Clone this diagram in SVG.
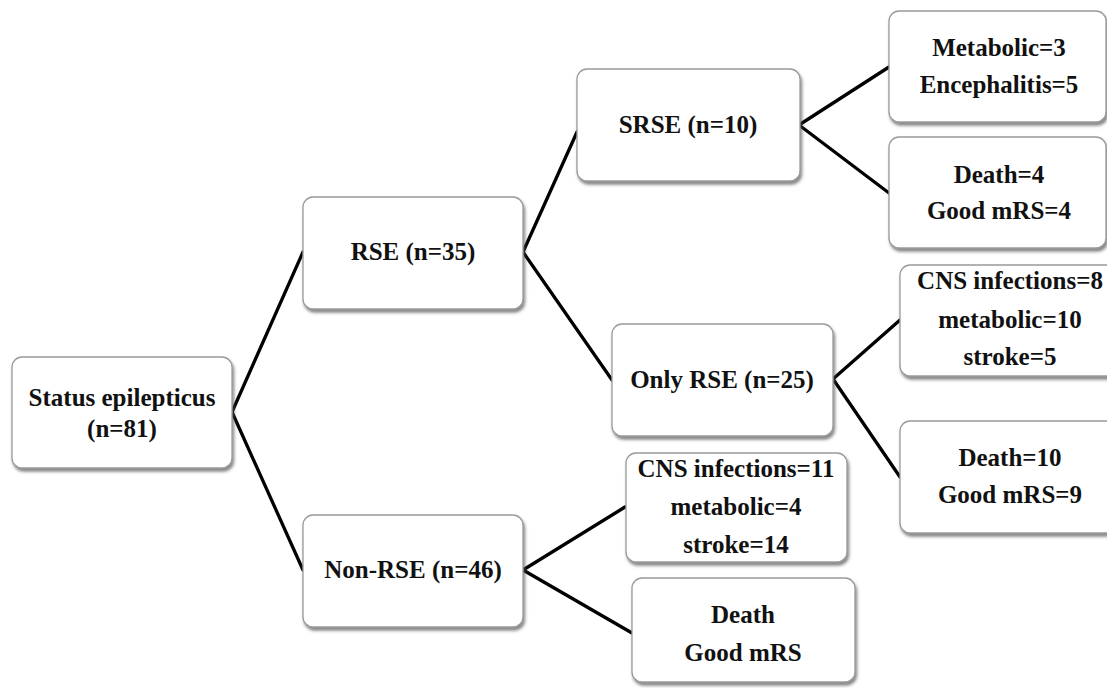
<svg xmlns="http://www.w3.org/2000/svg" width="1107" height="688" viewBox="0 0 1107 688">
<defs>
<filter id="sh" x="-10%" y="-10%" width="130%" height="140%">
<feDropShadow dx="1.5" dy="3" stdDeviation="1.8" flood-color="#555" flood-opacity="0.7"/>
</filter>
<style>
.box{fill:#fff;stroke:#9a9a9a;stroke-width:1.3;filter:url(#sh)}
.t{font-family:"Liberation Serif","Times New Roman",serif;font-weight:bold;font-size:25px;fill:#111;text-anchor:middle}
.c{stroke:#000;stroke-width:3.3;fill:none;stroke-linecap:round}
</style>
</defs>
<rect width="1107" height="688" fill="#fff"/>
<g id="connectors">
<line class="c" x1="232" y1="412" x2="303" y2="252"/>
<line class="c" x1="232" y1="412" x2="303" y2="570"/>
<line class="c" x1="523" y1="252" x2="577" y2="132"/>
<line class="c" x1="523" y1="252" x2="612" y2="380"/>
<line class="c" x1="799" y1="125" x2="889" y2="67"/>
<line class="c" x1="799" y1="125" x2="889" y2="193"/>
<line class="c" x1="833" y1="379" x2="900" y2="320"/>
<line class="c" x1="833" y1="379" x2="900" y2="477"/>
<line class="c" x1="523" y1="570" x2="625" y2="507"/>
<line class="c" x1="523" y1="570" x2="632" y2="633"/>
</g>
<g id="status">
<rect class="box" x="12" y="357" width="220" height="111" rx="10"/>
<text class="t" x="122" y="406">Status epilepticus</text>
<text class="t" x="122" y="437">(n=81)</text>
</g>
<g id="rse">
<rect class="box" x="303" y="197" width="220" height="112" rx="10"/>
<text class="t" x="413" y="260">RSE (n=35)</text>
</g>
<g id="nonrse">
<rect class="box" x="303" y="515" width="220" height="112" rx="10"/>
<text class="t" x="413" y="578">Non-RSE (n=46)</text>
</g>
<g id="srse">
<rect class="box" x="577" y="69" width="223" height="112" rx="10"/>
<text class="t" x="688" y="133">SRSE (n=10)</text>
</g>
<g id="onlyrse">
<rect class="box" x="612" y="324" width="221" height="112" rx="10"/>
<text class="t" x="722" y="388">Only RSE (n=25)</text>
</g>
<g id="srse-cause">
<rect class="box" x="889" y="11" width="217" height="111" rx="10"/>
<text class="t" x="999" y="56">Metabolic=3</text>
<text class="t" x="999" y="93">Encephalitis=5</text>
</g>
<g id="srse-outcome">
<rect class="box" x="889" y="137" width="217" height="111" rx="10"/>
<text class="t" x="999" y="183">Death=4</text>
<text class="t" x="999" y="219">Good mRS=4</text>
</g>
<g id="rse-cause">
<rect class="box" x="900" y="265" width="220" height="111" rx="10"/>
<text class="t" x="1010" y="289">CNS infections=8</text>
<text class="t" x="1010" y="328">metabolic=10</text>
<text class="t" x="1010" y="365">stroke=5</text>
</g>
<g id="rse-outcome">
<rect class="box" x="900" y="421" width="220" height="112" rx="10"/>
<text class="t" x="1010" y="466">Death=10</text>
<text class="t" x="1010" y="503">Good mRS=9</text>
</g>
<g id="nonrse-cause">
<rect class="box" x="626" y="453" width="221" height="109" rx="10"/>
<text class="t" x="736" y="477">CNS infections=11</text>
<text class="t" x="736" y="515">metabolic=4</text>
<text class="t" x="736" y="553">stroke=14</text>
</g>
<g id="nonrse-outcome">
<rect class="box" x="632" y="578" width="223" height="104" rx="10"/>
<text class="t" x="743" y="623">Death</text>
<text class="t" x="743" y="661">Good mRS</text>
</g>
</svg>
